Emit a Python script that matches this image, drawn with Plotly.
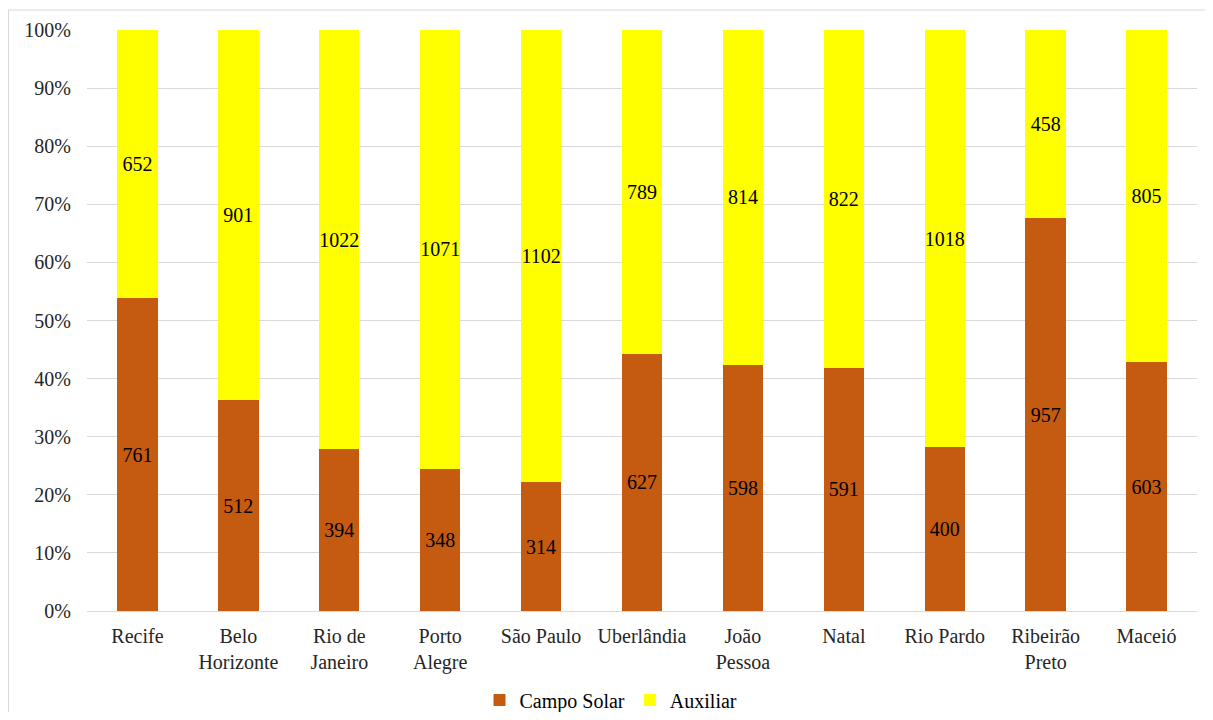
import plotly.graph_objects as go

cities = ["Recife", "Belo<br>Horizonte", "Rio de<br>Janeiro", "Porto<br>Alegre", "São Paulo",
          "Uberlândia", "João<br>Pessoa", "Natal", "Rio Pardo", "Ribeirão<br>Preto", "Maceió"]
campo_solar = [761, 512, 394, 348, 314, 627, 598, 591, 400, 957, 603]
auxiliar = [652, 901, 1022, 1071, 1102, 789, 814, 822, 1018, 458, 805]
y_ticks = [0, 10, 20, 30, 40, 50, 60, 70, 80, 90, 100]
y_ticktext = [f"{v}%" for v in y_ticks]

FONT = "Liberation Serif, Times New Roman, serif"
FS = 20

fig = go.Figure()
fig.add_trace(go.Bar(name="Campo Solar", x=cities, y=campo_solar, marker_color="#C55A11",
                     marker_line_width=0,
                     text=campo_solar, textposition="inside", insidetextanchor="middle",
                     textangle=0, constraintext="none",
                     textfont=dict(family=FONT, size=FS, color="black")))
fig.add_trace(go.Bar(name="Auxiliar", x=cities, y=auxiliar, marker_color="#FFFF00",
                     marker_line_width=0,
                     text=auxiliar, textposition="inside", insidetextanchor="middle",
                     textangle=0, constraintext="none",
                     textfont=dict(family=FONT, size=FS, color="black")))

# page body has an 8px margin; figure sized/offset to compensate
OFF = 8
W, H = 1213 - 2 * OFF, 720 - 2 * OFF
plot_l, plot_r, plot_t, plot_b = 87, 1197, 30, 611  # window coords
L, R = plot_l - OFF, (OFF + W) - plot_r
T, B = plot_t - OFF, (OFF + H) - plot_b
pw, ph = plot_r - plot_l, plot_b - plot_t


def px_x(wx):
    return (wx - plot_l) / pw


def px_y(wy):
    return (plot_b - wy) / ph


fig.update_layout(
    barmode="stack", barnorm="percent", bargap=0.6,
    width=W, height=H,
    margin=dict(l=L, r=R, t=T, b=B, autoexpand=False),
    paper_bgcolor="white", plot_bgcolor="white",
    font=dict(family=FONT, size=FS, color="#262626"),
    showlegend=True,
    legend=dict(orientation="h", x=px_x(611), xanchor="center", y=px_y(700), yanchor="middle",
                font=dict(family=FONT, size=FS, color="black"), traceorder="normal",
                itemwidth=30),
    xaxis=dict(showgrid=False, showline=True, linecolor="#d9d9d9", linewidth=1,
               tickfont=dict(family=FONT, size=FS, color="#262626"), ticks="",
               ticklabelstandoff=7, automargin=False),
    yaxis=dict(range=[0, 100], tickmode="array", tickvals=y_ticks, ticktext=y_ticktext,
               showgrid=True, gridcolor="#d9d9d9", gridwidth=1, zeroline=False, showline=False,
               tickfont=dict(family=FONT, size=FS, color="#262626"), ticks="", ticklabelstandoff=15,
               automargin=False),
    shapes=[
        dict(type="line", xref="paper", yref="paper", x0=px_x(OFF + 0.5), x1=px_x(1213),
             y0=px_y(10), y1=px_y(10), line=dict(color="#d9d9d9", width=1), layer="below"),
        dict(type="line", xref="paper", yref="paper", x0=px_x(OFF + 0.5), x1=px_x(OFF + 0.5),
             y0=px_y(10), y1=px_y(720), line=dict(color="#d9d9d9", width=1), layer="below"),
    ],
)

fig.write_html("out.html")
